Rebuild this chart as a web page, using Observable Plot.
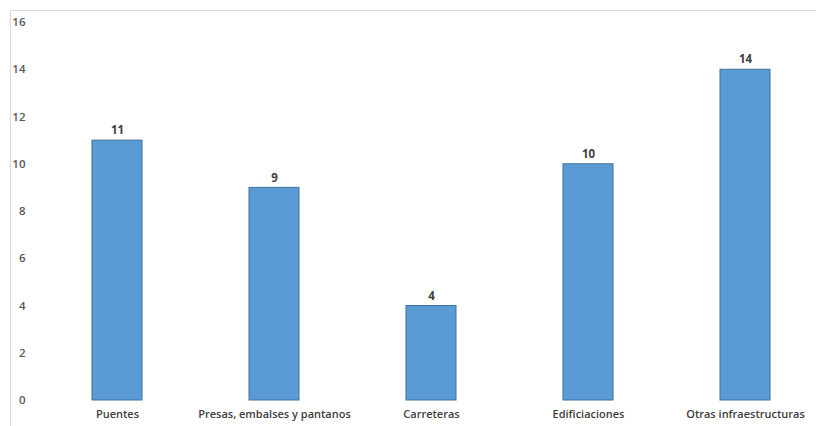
<!DOCTYPE html>
<html>
<head>
<meta charset="utf-8">
<script src="https://cdn.jsdelivr.net/npm/d3@7"></script>
<script src="https://cdn.jsdelivr.net/npm/@observablehq/plot@0.6"></script>
<style>
  html, body { margin: 0; padding: 0; background: #fff; }
  #wrap { position: relative; width: 816px; height: 426px; overflow: hidden; }
  #border { position: absolute; left: 10px; top: 10px; width: 830px; height: 430px; border: 1px solid #d9d9d9; box-sizing: border-box; }
  #chart { position: absolute; left: 0; top: 0; }
</style>
</head>
<body>
<div id="wrap"><div id="border"></div><div id="chart"></div></div>
<script>
const categories = ["Puentes", "Presas, embalses y pantanos", "Carreteras", "Edificiaciones", "Otras infraestructuras"];
const values = [11, 9, 4, 10, 14];
const yTicks = [0, 2, 4, 6, 8, 10, 12, 14, 16];

const data = categories.map((c, i) => ({category: c, value: values[i]}));

const chart = Plot.plot({
  width: 816,
  height: 426,
  marginTop: 22,
  marginBottom: 26,
  marginLeft: 39,
  marginRight: 0,
  style: {fontFamily: "'Open Sans', sans-serif", background: "transparent"},
  x: {domain: categories, range: [39, 824], paddingInner: 0.68, paddingOuter: 0.34, label: null},
  y: {domain: [0, 16], label: null},
  marks: [
    Plot.gridY(yTicks, {stroke: "#d9d9d9", strokeOpacity: 1, x1: 39, x2: 816}),
    Plot.axisY(yTicks, {tickSize: 0, tickPadding: 14, fontSize: 11.5, fontWeight: 600, fill: "#595959", label: null}),
    Plot.axisX({tickSize: 0, tickPadding: 10, fontSize: 11, fontWeight: 600, fill: "#404040", label: null}),
    Plot.barY(data, {x: "category", y: "value", fill: "#5B9BD5", stroke: "#41719C", strokeWidth: 1}),
    Plot.text(data, {x: "category", y: "value", text: d => String(d.value), dy: -10, fontSize: 11.5, fontWeight: 700, fill: "#404040"})
  ]
});
document.getElementById("chart").appendChild(chart);
</script>
</body>
</html>
